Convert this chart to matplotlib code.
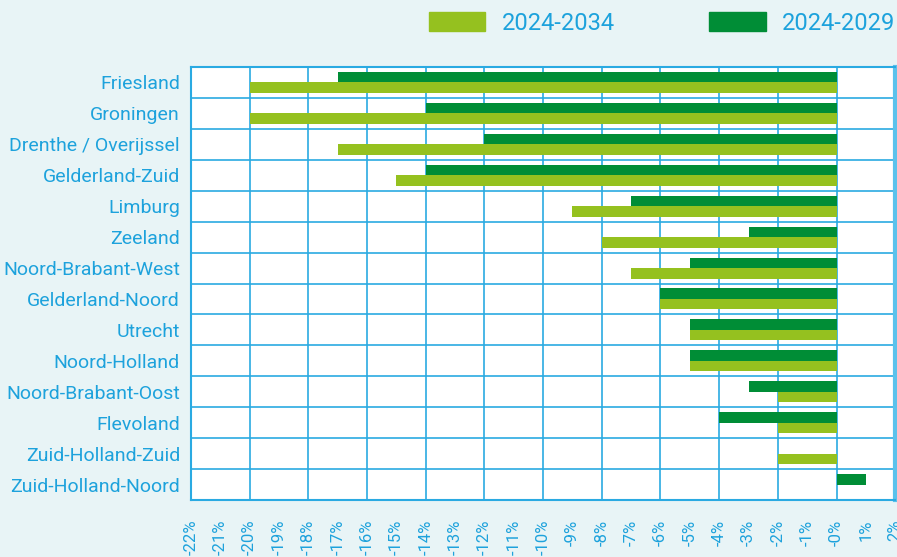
import matplotlib.pyplot as plt
import numpy as np

plt.rcParams['font.family'] = ['Roboto', 'DejaVu Sans']

regions = ["Friesland", "Groningen", "Drenthe / Overijssel", "Gelderland-Zuid",
           "Limburg", "Zeeland", "Noord-Brabant-West", "Gelderland-Noord",
           "Utrecht", "Noord-Holland", "Noord-Brabant-Oost", "Flevoland",
           "Zuid-Holland-Zuid", "Zuid-Holland-Noord"]
change_2029 = [-17, -14, -12, -14, -7, -3, -5, -6, -5, -5, -3, -4, 0, 1]
change_2034 = [-20, -20, -17, -15, -9, -8, -7, -6, -5, -5, -2, -2, -2, 0]
xticks = list(range(-22, 3))

bg = '#e8f4f6'
txt = '#1da2dc'
grid = '#2aaae2'
light = '#95c11f'
dark = '#008d36'

fig = plt.figure(figsize=(8.97, 5.57), dpi=100, facecolor=bg)
ax = fig.add_axes([0.213, 0.1023, 0.785, 0.7774])
ax.set_facecolor('white')

y = np.arange(len(regions))
h = 0.34
ax.barh(y - h / 2, change_2029, height=h, color=dark, zorder=3)
ax.barh(y + h / 2, change_2034, height=h, color=light, zorder=3)

ax.set_xlim(-22, 2)
ax.set_ylim(len(regions) - 0.5, -0.5)

for v in range(-20, 1, 2):
    ax.axvline(v, color=grid, lw=1.2, zorder=1)
for b in np.arange(0.5, len(regions) - 1, 1):
    ax.axhline(b, color=grid, lw=1.2, zorder=1)

ax.set_yticks(y)
ax.set_yticklabels(regions, color=txt, fontsize=14)
ax.set_xticks(xticks)
ax.set_xticklabels([("-0%" if v == 0 else f"{v}%") for v in xticks],
                   rotation=90, color=txt, fontsize=12)
ax.tick_params(axis='both', length=0)
ax.tick_params(axis='x', pad=14)
ax.tick_params(axis='y', pad=8)

for s in ax.spines.values():
    s.set_color(grid)
    s.set_linewidth(1.5)
ax.spines['right'].set_color('#5bc2ec')
ax.spines['right'].set_linewidth(3)

handles = [plt.Rectangle((0, 0), 1, 1, color=light),
           plt.Rectangle((0, 0), 1, 1, color=dark)]
leg = fig.legend(handles, ["2024-2034", "2024-2029"], ncol=2, frameon=False,
                 loc='center right', bbox_to_anchor=(895 / 897, 1 - 23 / 557),
                 borderpad=0, borderaxespad=0,
                 handlelength=2.4, handleheight=0.85, columnspacing=4.0,
                 handletextpad=0.68, fontsize=17)
for t in leg.get_texts():
    t.set_color(txt)

fig.savefig('out.png', dpi=100, facecolor=bg)
